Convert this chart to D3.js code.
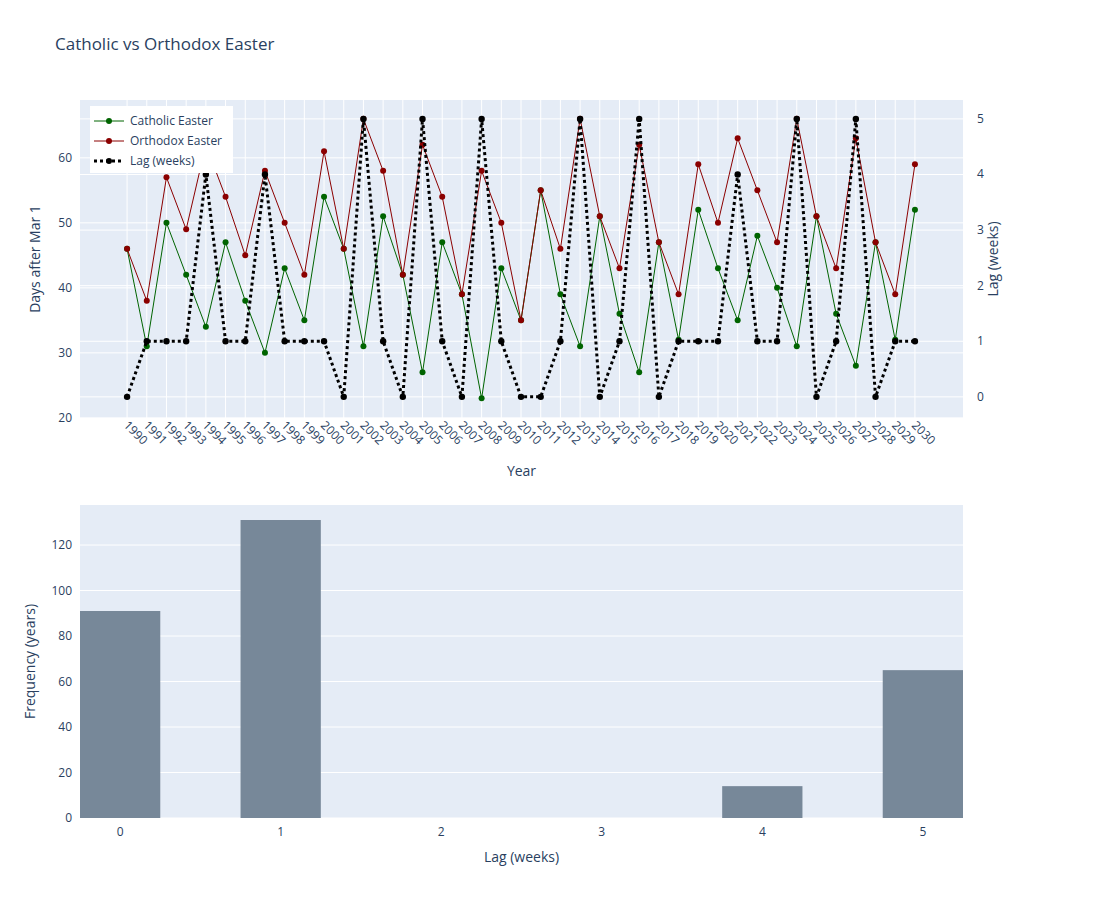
<!DOCTYPE html>
<html><head><meta charset="utf-8">
<script src="https://cdn.jsdelivr.net/npm/d3@7"></script>
<style>body{margin:0;background:#fff;font-family:"Open Sans",sans-serif}</style>
</head><body><svg id="c" width="1100" height="900"></svg>
<script>
const years = d3.range(1990, 2031);
const catholic = [46,31,50,42,34,47,38,30,43,35,54,46,31,51,42,27,47,39,23,43,35,55,39,31,51,36,27,47,32,52,43,35,48,40,31,51,36,28,47,32,52];
const orthodox = [46,38,57,49,62,54,45,58,50,42,61,46,66,58,42,62,54,39,58,50,35,55,46,66,51,43,62,47,39,59,50,63,55,47,66,51,43,63,47,39,59];
const lag = orthodox.map((o,i)=>(o-catholic[i])/7);
const histLags = [0,1,2,3,4,5];
const histFreq = [91,131,0,0,14,65];
const leftTicks = [20,30,40,50,60];
const rightTicks = [0,1,2,3,4,5];
const freqTicks = [0,20,40,60,80,100,120];

const svg = d3.select("#c");
const txt = "#2a3f5f";
svg.append("text").attr("x",55).attr("y",50).attr("font-size",17).attr("fill",txt).text("Catholic vs Orthodox Easter");

const L=80,R=963,T1=100,B1=418,T2=505,B2=818;
const x = d3.scaleLinear().domain([1990-2.39,2030+2.44]).range([L,R]);
const yL = d3.scaleLinear().domain([20-0.02,68.9]).range([B1,T1]);
const yR = d3.scaleLinear().domain([-0.38,5.34]).range([B1,T1]);

svg.append("rect").attr("x",L).attr("y",T1).attr("width",R-L).attr("height",B1-T1).attr("fill","#e5ecf6");
const g1 = svg.append("g");
years.forEach(yv=>g1.append("line").attr("x1",x(yv)).attr("x2",x(yv)).attr("y1",T1).attr("y2",B1).attr("stroke","#fff"));
leftTicks.forEach(v=>g1.append("line").attr("x1",L).attr("x2",R).attr("y1",yL(v)).attr("y2",yL(v)).attr("stroke","#fff"));
rightTicks.forEach(v=>g1.append("line").attr("x1",L).attr("x2",R).attr("y1",yR(v)).attr("y2",yR(v)).attr("stroke","#fff"));

leftTicks.forEach(v=>svg.append("text").attr("x",L-8).attr("y",yL(v)+4).attr("text-anchor","end").attr("font-size",12).attr("fill",txt).text(v));
rightTicks.forEach(v=>svg.append("text").attr("x",R+14).attr("y",yR(v)+4).attr("font-size",12).attr("fill",txt).text(v));
years.forEach(yv=>svg.append("text").attr("transform",`translate(${x(yv)-4},${B1+8}) rotate(45)`).attr("font-size",12).attr("fill",txt).text(yv));
svg.append("text").attr("x",(L+R)/2).attr("y",476).attr("text-anchor","middle").attr("font-size",14).attr("fill",txt).text("Year");
svg.append("text").attr("transform",`translate(40,${(T1+B1)/2}) rotate(-90)`).attr("text-anchor","middle").attr("font-size",14).attr("fill",txt).text("Days after Mar 1");
svg.append("text").attr("transform",`translate(998,${(T1+B1)/2}) rotate(-90)`).attr("text-anchor","middle").attr("font-size",14).attr("fill",txt).text("Lag (weeks)");

function series(vals, ys, color, w, dash, r){
  const line = d3.line().x((d,i)=>x(years[i])).y(d=>ys(d));
  const p = svg.append("path").attr("d",line(vals)).attr("fill","none").attr("stroke",color).attr("stroke-width",w);
  if(dash) p.attr("stroke-dasharray",dash);
  vals.forEach((d,i)=>svg.append("circle").attr("cx",x(years[i])).attr("cy",ys(d)).attr("r",r).attr("fill",color));
}
series(catholic,yL,"darkgreen",1,null,3);
series(orthodox,yL,"darkred",1,null,3);
series(lag,yR,"black",3,"3,3",3.2);

// legend
const lg = svg.append("g");
lg.append("rect").attr("x",90).attr("y",106).attr("width",143).attr("height",67).attr("fill","#fff").attr("opacity",1);
[["Catholic Easter","darkgreen",1,null],["Orthodox Easter","darkred",1,null],["Lag (weeks)","black",3,"3,3"]].forEach((s,i)=>{
  const yy=121+i*20;
  const ln=lg.append("line").attr("x1",94).attr("x2",124).attr("y1",yy).attr("y2",yy).attr("stroke",s[1]).attr("stroke-width",s[2]);
  if(s[3]) ln.attr("stroke-dasharray",s[3]);
  lg.append("circle").attr("cx",109).attr("cy",yy).attr("r",3).attr("fill",s[1]);
  lg.append("text").attr("x",130).attr("y",yy+4).attr("font-size",12).attr("fill",txt).text(s[0]);
});

// histogram
const xh = d3.scaleLinear().domain([-0.25,5.25]).range([L,R]);
const yh = d3.scaleLinear().domain([0,137.6]).range([B2,T2]);
svg.append("rect").attr("x",L).attr("y",T2).attr("width",R-L).attr("height",B2-T2).attr("fill","#e5ecf6");
freqTicks.forEach(v=>{
  svg.append("line").attr("x1",L).attr("x2",R).attr("y1",yh(v)).attr("y2",yh(v)).attr("stroke","#fff");
  svg.append("text").attr("x",L-8).attr("y",yh(v)+4).attr("text-anchor","end").attr("font-size",12).attr("fill",txt).text(v);
});
histLags.forEach((v,i)=>{
  if(histFreq[i]>0) svg.append("rect").attr("x",xh(v-0.25)).attr("y",yh(histFreq[i])).attr("width",xh(v+0.25)-xh(v-0.25)).attr("height",B2-yh(histFreq[i])).attr("fill","lightslategray");
  svg.append("text").attr("x",xh(v)).attr("y",B2+18).attr("text-anchor","middle").attr("font-size",12).attr("fill",txt).text(v);
});
svg.append("text").attr("x",(L+R)/2).attr("y",862).attr("text-anchor","middle").attr("font-size",14).attr("fill",txt).text("Lag (weeks)");
svg.append("text").attr("transform",`translate(35,${(T2+B2)/2}) rotate(-90)`).attr("text-anchor","middle").attr("font-size",14).attr("fill",txt).text("Frequency (years)");
</script></body></html>
